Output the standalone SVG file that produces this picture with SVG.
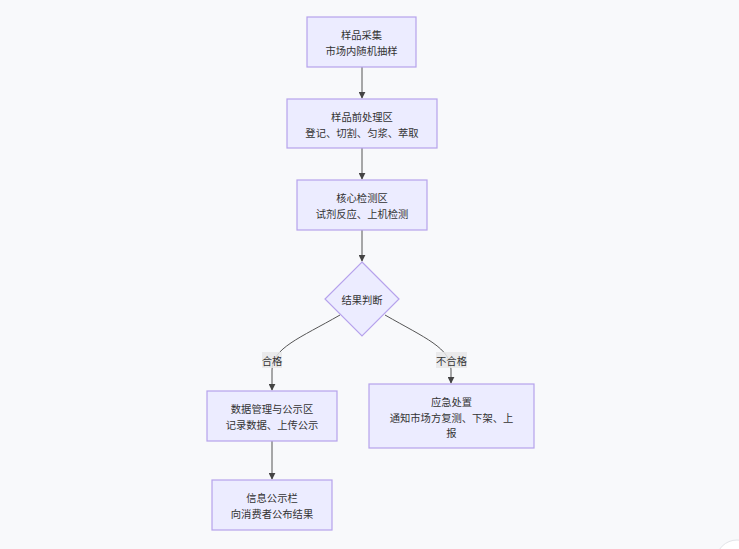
<svg xmlns="http://www.w3.org/2000/svg" width="739" height="549" viewBox="0 0 739 549">
<defs>
<style>
.n{fill:#ECECFF;stroke:#B6A2EC;stroke-width:1.2}
.t{font-family:"Noto Sans CJK SC","Liberation Sans",sans-serif;font-size:10.3px;fill:#333;text-anchor:middle;dominant-baseline:central}
.e{fill:none;stroke:#555;stroke-width:1}
.lb{fill:#E8E8E8;opacity:0.85}
</style>
<marker id="ah" viewBox="0 0 10 10" refX="9" refY="5" markerWidth="7" markerHeight="7" markerUnits="userSpaceOnUse" orient="auto">
<path d="M0,0 L10,5 L0,10 z" fill="#444"/>
</marker>
</defs>
<rect width="739" height="549" fill="#F8F9FB"/>
<g id="connectors">
<path class="e" d="M362,67 L362,98" marker-end="url(#ah)"/>
<path class="e" d="M362,148 L362,179" marker-end="url(#ah)"/>
<path class="e" d="M362,230 L362,261" marker-end="url(#ah)"/>
<path class="e" d="M340,315 C300,338 272,348 272,370 L272,390" marker-end="url(#ah)"/>
<path class="e" d="M385,315 C425,338 451,348 451,370 L451,383" marker-end="url(#ah)"/>
<path class="e" d="M272,441 L272,479" marker-end="url(#ah)"/>
<g id="label-pass"><rect class="lb" x="262" y="352" width="20" height="16"/><text class="t" x="272" y="360">合格</text></g>
<g id="label-fail"><rect class="lb" x="436" y="352" width="31" height="16"/><text class="t" x="451.5" y="360">不合格</text></g>
</g>
<g id="sampling"><rect class="n" x="307" y="17" width="109" height="50"/><text class="t" x="361.5" y="34">样品采集</text><text class="t" x="361.5" y="50">市场内随机抽样</text></g>
<g id="pretreat"><rect class="n" x="287" y="99" width="150" height="49"/><text class="t" x="362" y="116">样品前处理区</text><text class="t" x="362" y="132">登记、切割、匀浆、萃取</text></g>
<g id="core"><rect class="n" x="297" y="180" width="130" height="50"/><text class="t" x="362" y="197">核心检测区</text><text class="t" x="362" y="213">试剂反应、上机检测</text></g>
<g id="judge"><polygon class="n" points="362,262 399,299 362,336 325,299"/><text class="t" x="362" y="299">结果判断</text></g>
<g id="datamgmt"><rect class="n" x="207" y="391" width="130" height="50"/><text class="t" x="272" y="408">数据管理与公示区</text><text class="t" x="272" y="424">记录数据、上传公示</text></g>
<g id="emergency"><rect class="n" x="369" y="384" width="165" height="64"/><text class="t" x="451.5" y="401">应急处置</text><text class="t" x="451.5" y="417">通知市场方复测、下架、上</text><text class="t" x="451.5" y="432">报</text></g>
<g id="board"><rect class="n" x="212" y="480" width="120" height="50"/><text class="t" x="272" y="497">信息公示栏</text><text class="t" x="272" y="513">向消费者公布结果</text></g>
<circle cx="737" cy="561" r="21" fill="#FFFFFF" stroke="#E2E4E8" stroke-width="1"/>
</svg>
